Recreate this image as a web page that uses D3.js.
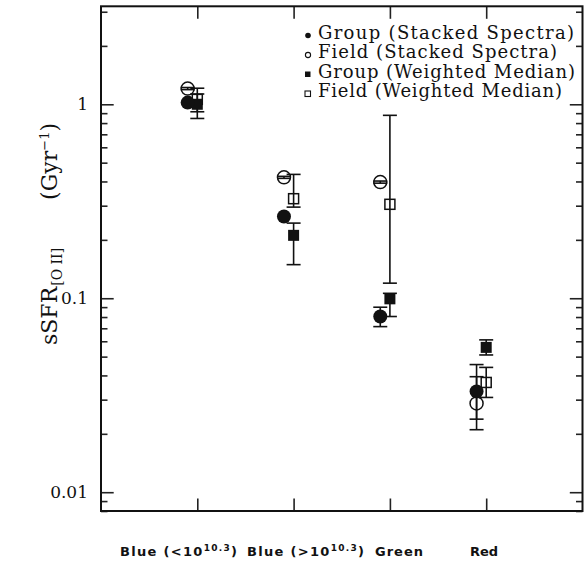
<!DOCTYPE html>
<html><head><meta charset="utf-8">
<script src="https://cdn.jsdelivr.net/npm/d3@7"></script>
<style>body{margin:0;background:#fff}svg{display:block}</style>
</head><body>
<svg id="c" width="585" height="564"></svg>
<script>
// ---- data ----
const categories = ["Blue (<10", "Blue (>10", "Green", "Red"];
const categorySup = ["10.3", "10.3", "", ""];
const groupSS   = [1.02, 0.264, 0.0805, 0.0331];
const groupSSLo = [null, null, 0.0714, 0.0238];
const groupSSHi = [null, null, 0.0899, 0.0455];
const fieldSS   = [1.205, 0.42, 0.397, 0.0287];
const fieldSSLo = [1.19, 0.415, 0.392, 0.021];
const fieldSSHi = [1.22, 0.425, 0.402, 0.0394];
const groupWM   = [1.0, 0.211, 0.0993, 0.0558];
const groupWMLo = [0.915, 0.149, 0.0805, 0.051];
const groupWMHi = [1.13, 0.244, 0.106, 0.061];
const fieldWM   = [1.06, 0.326, 0.305, 0.0368];
const fieldWMLo = [0.845, 0.295, 0.1196, 0.0308];
const fieldWMHi = [1.21, 0.435, 0.877, 0.044];
const yMajorTicks = [1, 0.1, 0.01];
const yTickLabels = ["1", "0.1", "0.01"];
const legendLabels = ["Group (Stacked Spectra)", "Field (Stacked Spectra)", "Group (Weighted Median)", "Field (Weighted Median)"];

// ---- layout ----
const L = 101, R = 582.5, T = 6.3, B = 511;
const svg = d3.select("#c");
const x = d3.scaleLinear().domain([0, 5]).range([L, R]);
const y = d3.scaleLog().domain([0.008, 3.2]).range([B, T]);

const minor = [];
[0.001, 0.01, 0.1, 1].forEach(d => { for (let k = 2; k <= 9; k++) { const v = +(d * k).toPrecision(3); if (v >= 0.008 && v <= 3.2) minor.push(v); } });

function styleAxis(g) { g.select(".domain").remove(); g.selectAll("line").attr("stroke", "#222").attr("stroke-width", 1.6); g.selectAll("text").remove(); }

svg.append("g").attr("transform", `translate(0,${B})`).call(d3.axisBottom(x).tickValues([1,2,3,4]).tickSize(-12.5)).call(styleAxis);
svg.append("g").attr("transform", `translate(0,${T})`).call(d3.axisTop(x).tickValues([1,2,3,4]).tickSize(-12.5)).call(styleAxis);
svg.append("g").attr("transform", `translate(${L},0)`).call(d3.axisLeft(y).tickValues(yMajorTicks).tickSize(-12.7)).call(styleAxis);
svg.append("g").attr("transform", `translate(${L},0)`).call(d3.axisLeft(y).tickValues(minor).tickSize(-6.5)).call(styleAxis);
svg.append("g").attr("transform", `translate(${R},0)`).call(d3.axisRight(y).tickValues(yMajorTicks).tickSize(-12.7)).call(styleAxis);
svg.append("g").attr("transform", `translate(${R},0)`).call(d3.axisRight(y).tickValues(minor).tickSize(-6.5)).call(styleAxis);

svg.append("rect").attr("x", L).attr("y", T).attr("width", R - L).attr("height", B - T)
  .attr("fill", "none").attr("stroke", "#111").attr("stroke-width", 2);

// y tick labels
svg.append("g").selectAll("text").data(yMajorTicks).join("text")
  .attr("x", 88).attr("y", d => y(d) + 6).attr("text-anchor", "end")
  .attr("font-family", "DejaVu Serif").attr("font-size", 17).attr("fill", "#111")
  .text((d, i) => yTickLabels[i]);

// y title
const yt = svg.append("text").attr("transform", "translate(57,345) rotate(-90)")
  .attr("font-family", "DejaVu Serif").attr("font-size", 22).attr("fill", "#111");
yt.append("tspan").text("sSFR");
yt.append("tspan").attr("font-size", 14).attr("dy", 5).attr("dx", 1).text("[O II]");
const yt2 = svg.append("text").attr("transform", "translate(57,123) rotate(-90)")
  .attr("text-anchor", "end")
  .attr("font-family", "DejaVu Serif").attr("font-size", 22).attr("fill", "#111");
yt2.append("tspan").text("(Gyr");
yt2.append("tspan").attr("font-size", 13).attr("dy", -8).text("−1");
yt2.append("tspan").attr("dy", 8).text(")");

// x category labels
const xlStart = [120, 247, 375, 470];
const xlWidth = [117, 117, 48, 28];
categories.forEach((c, i) => {
  const t = svg.append("text").attr("x", xlStart[i]).attr("y", 556)
    .attr("font-family", "DejaVu Sans").attr("font-weight", "bold").attr("font-size", 13).attr("fill", "#111")
    .attr("textLength", xlWidth[i]).attr("lengthAdjust", "spacing");
  t.append("tspan").text(c);
  if (categorySup[i]) {
    t.append("tspan").attr("font-size", 9).attr("dy", -5).text(categorySup[i]);
    t.append("tspan").attr("dy", 5).text(")");
  }
});

// ---- data marks ----
const idx = d3.range(categories.length);
const circOff = -0.1;
const plot = svg.append("g");
function errBars(vals, lo, hi, off) {
  const d = idx.filter(i => lo[i] != null);
  const g = plot.append("g").attr("stroke", "#111").attr("stroke-width", 1.6);
  g.selectAll(".v").data(d).join("line").attr("x1", i => x(i + 1 + off)).attr("x2", i => x(i + 1 + off))
    .attr("y1", i => y(lo[i])).attr("y2", i => y(hi[i]));
  g.selectAll(".lo").data(d).join("line").attr("x1", i => x(i + 1 + off) - 7).attr("x2", i => x(i + 1 + off) + 7)
    .attr("y1", i => y(lo[i])).attr("y2", i => y(lo[i]));
  g.selectAll(".hi").data(d).join("line").attr("x1", i => x(i + 1 + off) - 7).attr("x2", i => x(i + 1 + off) + 7)
    .attr("y1", i => y(hi[i])).attr("y2", i => y(hi[i]));
}
errBars(fieldWM, fieldWMLo, fieldWMHi, 0);
errBars(groupWM, groupWMLo, groupWMHi, 0);
errBars(fieldSS, fieldSSLo, fieldSSHi, circOff);
errBars(groupSS, groupSSLo, groupSSHi, circOff);

plot.append("g").selectAll("rect").data(idx).join("rect")
  .attr("x", i => x(i + 1) - 5).attr("y", i => y(fieldWM[i]) - 5).attr("width", 10).attr("height", 10)
  .attr("fill", "none").attr("stroke", "#111").attr("stroke-width", 1.5);
plot.append("g").selectAll("circle").data(idx).join("circle")
  .attr("cx", i => x(i + 1 + circOff)).attr("cy", i => y(fieldSS[i])).attr("r", 6.5)
  .attr("fill", "none").attr("stroke", "#111").attr("stroke-width", 1.5);
plot.append("g").selectAll("rect").data(idx).join("rect")
  .attr("x", i => x(i + 1) - 5.5).attr("y", i => y(groupWM[i]) - 5.5).attr("width", 11).attr("height", 11)
  .attr("fill", "#111");
plot.append("g").selectAll("circle").data(idx).join("circle")
  .attr("cx", i => x(i + 1 + circOff)).attr("cy", i => y(groupSS[i])).attr("r", 7)
  .attr("fill", "#111");

// ---- legend ----
const legY = [38.5, 58, 77.5, 97];
const legW = [256, 239, 257, 244];
const lg = svg.append("g");
legendLabels.forEach((s, i) => {
  lg.append("text").attr("x", 318).attr("y", legY[i])
    .attr("font-family", "DejaVu Serif").attr("font-size", 18).attr("fill", "#111")
    .attr("textLength", legW[i]).attr("lengthAdjust", "spacing").text(s);
});
lg.append("circle").attr("cx", 308).attr("cy", legY[0] - 3).attr("r", 2.8).attr("fill", "#111");
lg.append("circle").attr("cx", 308).attr("cy", legY[1] - 3).attr("r", 2.6).attr("fill", "none").attr("stroke", "#111").attr("stroke-width", 1.1);
lg.append("rect").attr("x", 305).attr("y", legY[2] - 6).attr("width", 5.5).attr("height", 5.5).attr("fill", "#111");
lg.append("rect").attr("x", 305).attr("y", legY[3] - 6).attr("width", 5.5).attr("height", 5.5).attr("fill", "none").attr("stroke", "#111").attr("stroke-width", 1.1);
</script>
</body></html>
